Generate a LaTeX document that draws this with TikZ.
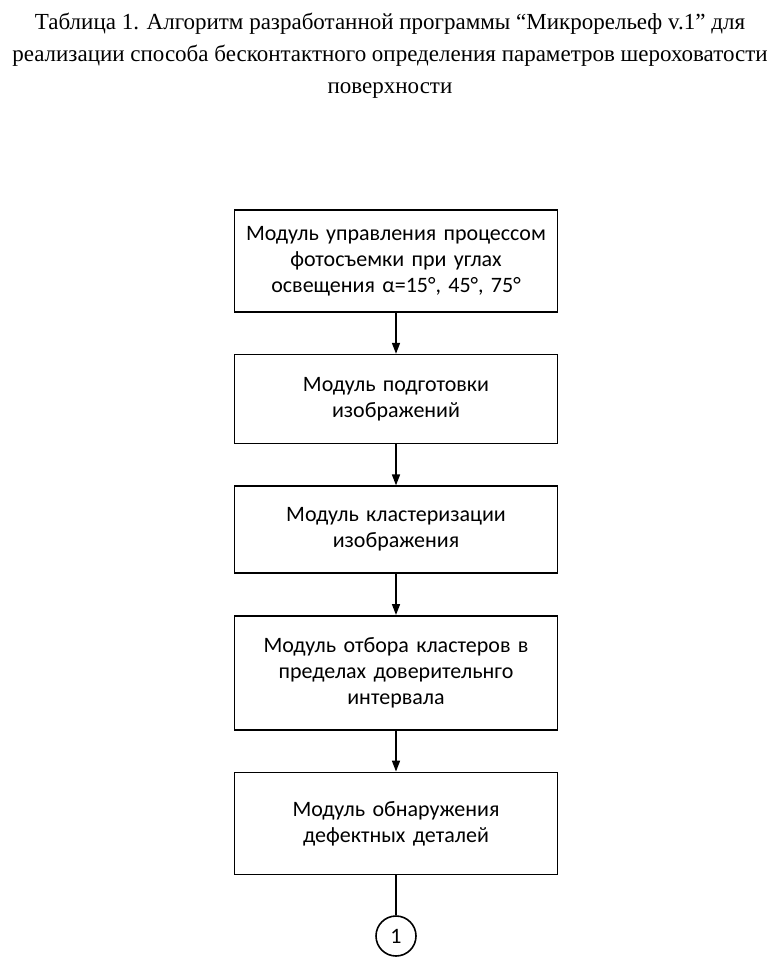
\documentclass[tikz,border=0pt]{standalone}
\usepackage{fontspec}
\setmainfont{Liberation Serif}
\newfontfamily\boxfont{Carlito}
\usetikzlibrary{arrows.meta,positioning}
\tikzset{
  modbox/.style={draw=black,line width=1.6pt,fill=white,
    text width=314pt,minimum width=323pt,align=center,inner sep=0pt,
    font=\boxfont\fontsize{22}{26}\selectfont},
  endmark/.style={draw=black,circle,line width=1.6pt,minimum size=40pt,
    inner sep=0pt,font=\boxfont\fontsize{22}{26}\selectfont},
  flow/.style={-{Triangle[length=11pt,width=8pt]},line width=1.6pt}
}
\begin{document}
\begin{tikzpicture}[node distance=41pt]
\useasboundingbox (0pt,0pt) rectangle (780pt,-960pt);
\node[align=center,font=\fontsize{23}{32}\selectfont] (title) at (390pt,-56pt)
  {Таблица 1. Алгоритм разработанной программы “Микрорельеф v.1” для\\
   реализации способа бесконтактного определения параметров шероховатости\\
   поверхности};
\node[modbox,minimum height=102pt] (shoot) at (396pt,-261pt)
  {Модуль управления процессом\\фотосъемки при углах\\освещения α=15°, 45°, 75°};
\node[modbox,minimum height=89pt,below=of shoot] (prep)
  {Модуль подготовки\\изображений};
\node[modbox,minimum height=87pt,below=of prep] (clust)
  {Модуль кластеризации\\изображения};
\node[modbox,minimum height=114pt,below=of clust] (select)
  {Модуль отбора кластеров в\\пределах доверительнго\\интервала};
\node[modbox,minimum height=102pt,below=of select] (defect)
  {Модуль обнаружения\\дефектных деталей};
\node[endmark,below=40pt of defect] (cont) {1};
\draw[flow] (shoot) -- (prep);
\draw[flow] (prep) -- (clust);
\draw[flow] (clust) -- (select);
\draw[flow] (select) -- (defect);
\draw[line width=1.6pt] (defect) -- (cont);
\end{tikzpicture}
\end{document}
